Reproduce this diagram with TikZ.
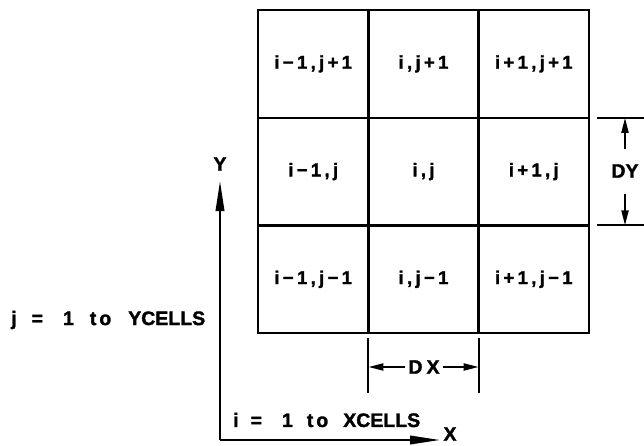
\documentclass[tikz,border=0pt]{standalone}
\usepackage{fontspec}
\setmainfont{Liberation Sans}[BoldFeatures={FakeBold=1.6}]
\usetikzlibrary{arrows.meta}
\newfontfamily\celllblfont{Liberation Sans}[LetterSpace=18, BoldFeatures={FakeBold=1.6}]
\newcommand{\lbl}{\fontsize{19.5}{22}\selectfont\bfseries}
\newcommand{\clbl}{\celllblfont\fontsize{18.5}{20}\selectfont\bfseries}
\tikzset{
  cell/.style={draw, line width=2.4pt, minimum width=110.3pt, minimum height=107.7pt, inner sep=0pt, font=\clbl},
  txt/.style={inner sep=0pt, font=\lbl},
  axis/.style={line width=2pt, -{Stealth[length=30pt, width=8.5pt, inset=0pt]}},
  dim/.style={line width=2pt, -{Stealth[length=15pt, width=7pt, inset=0pt]}},
  ext/.style={line width=2pt}
}
\begin{document}
\begin{tikzpicture}[x=1pt, y=-1pt]
\useasboundingbox (0,0) rectangle (644,446);
% grid cells (columns 258..589, rows 10..333)
\node[cell] (c11) at (313.2, 63.9) {i−1,j+1};
\node[cell] (c21) at (423.5, 63.9) {i,j+1};
\node[cell] (c31) at (533.8, 63.9) {i+1,j+1};
\node[cell] (c12) at (313.2, 171.6) {i−1,j};
\node[cell] (c22) at (423.5, 171.6) {i,j};
\node[cell] (c32) at (533.8, 171.6) {i+1,j};
\node[cell] (c13) at (313.2, 279.3) {i−1,j−1};
\node[cell] (c23) at (423.5, 279.3) {i,j−1};
\node[cell] (c33) at (533.8, 279.3) {i+1,j−1};
% axes
\coordinate (O) at (220,440);
\coordinate (ytip) at (220,181);
\coordinate (xtip) at (440,440);
\node[txt] (ylab) at (220,164) {Y};
\node[txt] (xlab) at (450,434) {X};
\draw[axis] (O) -- (ytip);
\draw[axis] (O) -- (xtip);
\node[txt, anchor=west] (jtxt) at (11,320) {j\hspace{15pt}=\hspace{20pt}1\hspace{16pt}t\hspace{3pt}o\hspace{17pt}YCELLS};
\node[txt, anchor=west] (itxt) at (233,420) {i\hspace{12pt}=\hspace{20pt}1\hspace{14pt}t\hspace{3pt}o\hspace{15pt}XCELLS};
% DX dimension
\coordinate (dxa1) at (368.4,338);
\coordinate (dxa2) at (368.4,393);
\coordinate (dxb1) at (478.7,338);
\coordinate (dxb2) at (478.7,393);
\draw[ext] (dxa1) -- (dxa2);
\draw[ext] (dxb1) -- (dxb2);
\node[txt] (dx) at (424,367) {D\hspace{4pt}X};
\coordinate (dxl) at (368.4,367);
\coordinate (dxr) at (478.7,367);
\draw[dim] (dx.west) ++(-3pt,0) -- (dxl);
\draw[dim] (dx.east) ++(3pt,0) -- (dxr);
% DY dimension
\coordinate (dya1) at (597,117.8);
\coordinate (dya2) at (644,117.8);
\coordinate (dyb1) at (597,225.4);
\coordinate (dyb2) at (644,225.4);
\draw[ext] (dya1) -- (dya2);
\draw[ext] (dyb1) -- (dyb2);
\node[txt] (dy) at (625,171) {DY};
\coordinate (dyt) at (625,117.8);
\coordinate (dyb) at (625,225.4);
\draw[dim] (625,149) -- (dyt);
\draw[dim] (625,194) -- (dyb);
\end{tikzpicture}
\end{document}
